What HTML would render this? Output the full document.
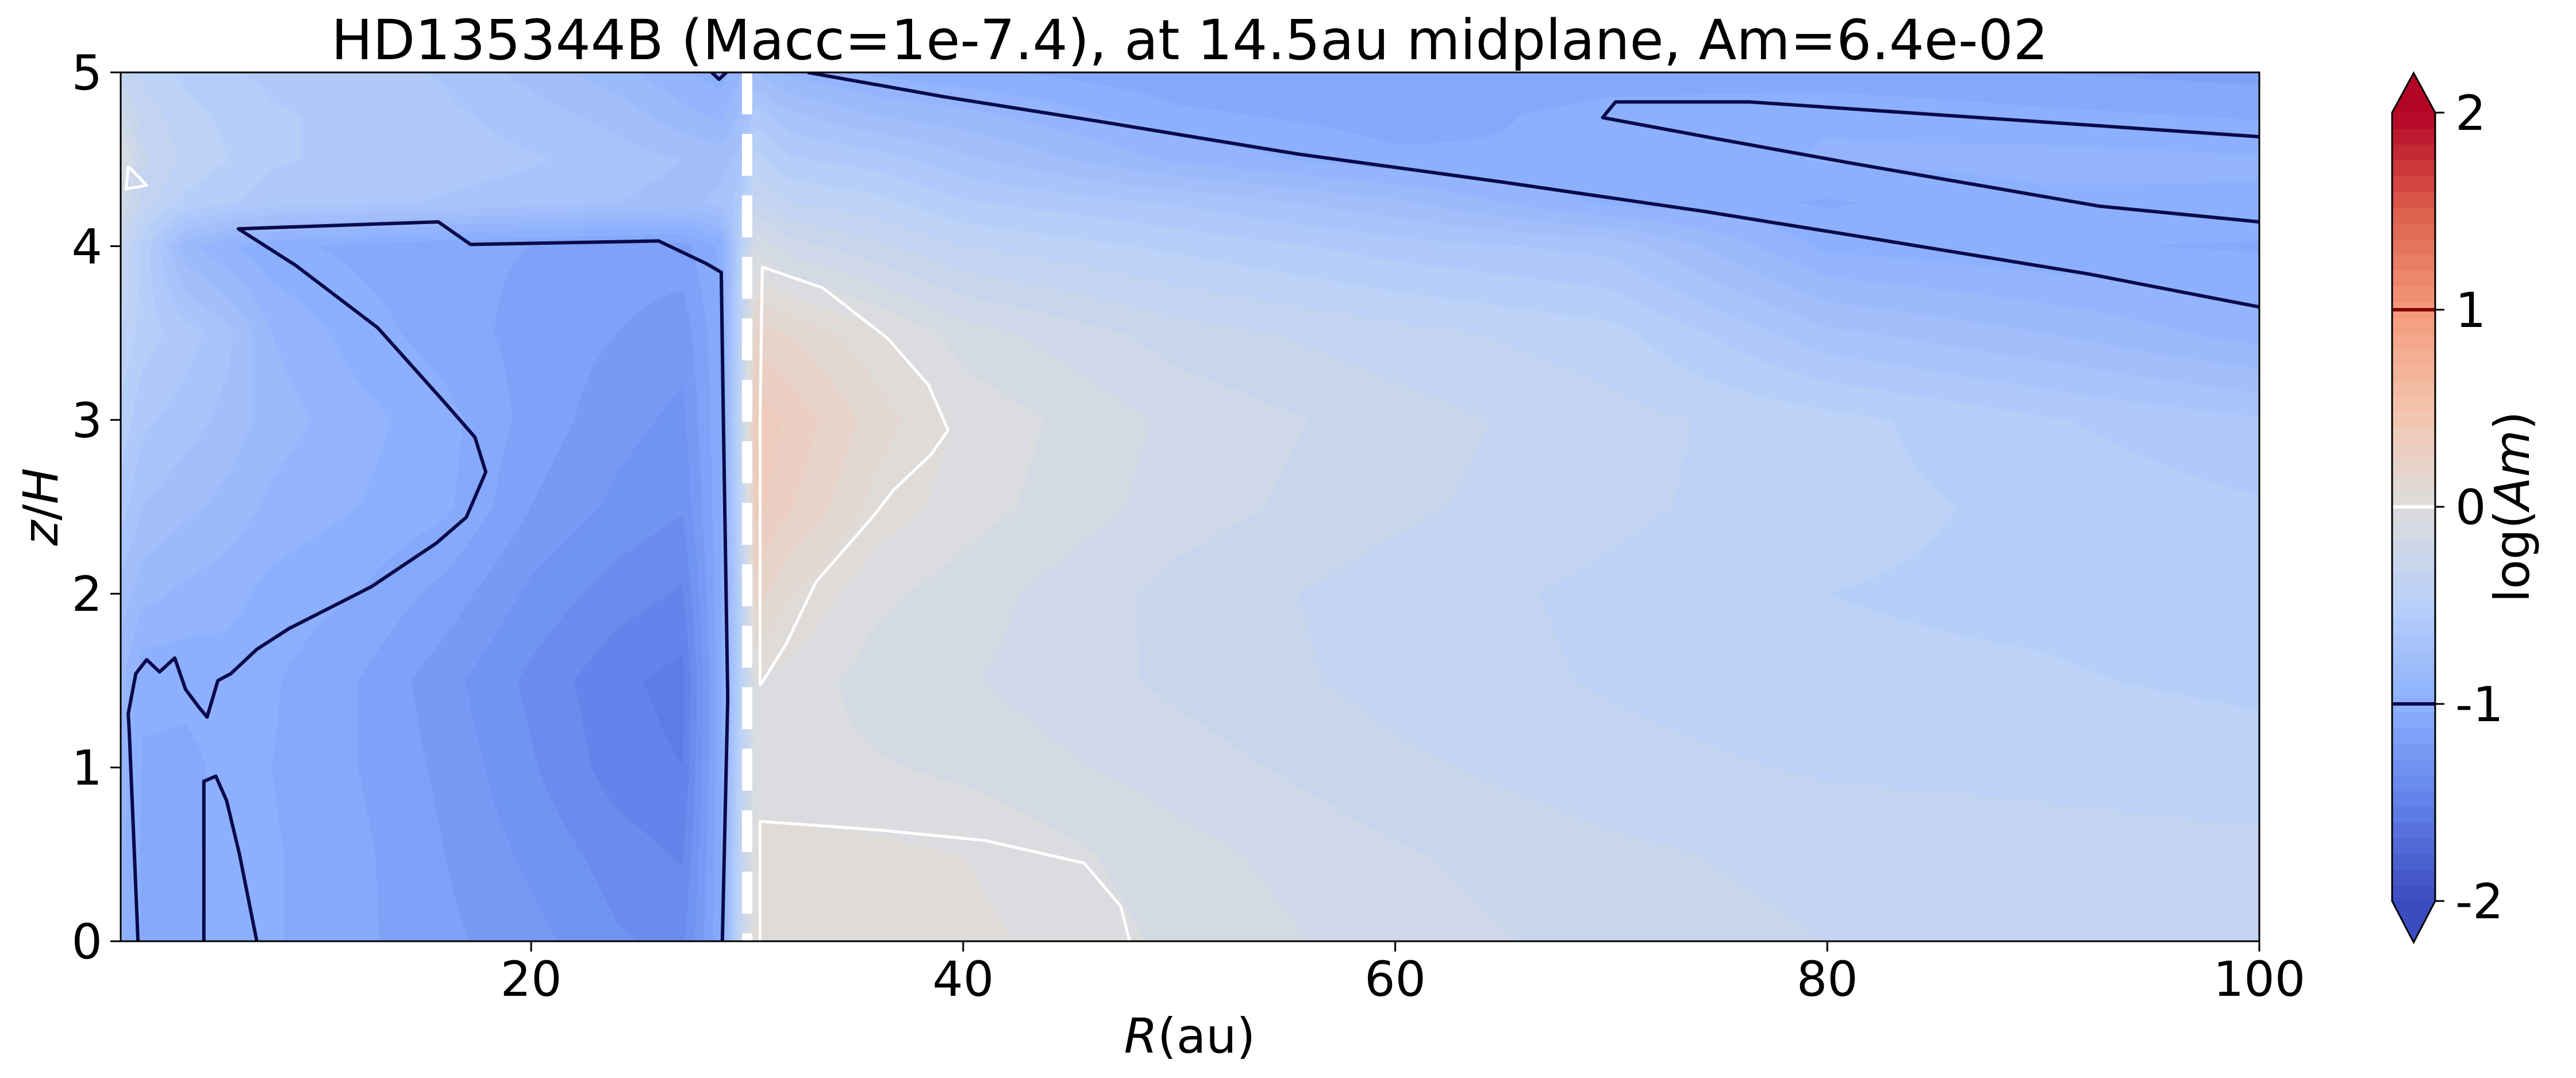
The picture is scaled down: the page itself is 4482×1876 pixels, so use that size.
<!DOCTYPE html>
<html><head><meta charset="utf-8">
<style>
html,body{margin:0;padding:0;background:#fff;}
#wrap{position:relative;width:4482px;height:1876px;overflow:hidden;background:#fff;}
#field{position:absolute;left:210px;top:126px;}
#ov{position:absolute;left:0;top:0;}
text{font-family:"DejaVu Sans","Liberation Sans",sans-serif;fill:#000;}
</style></head>
<body>
<div id="wrap">
<canvas id="field" width="3721" height="1512"></canvas>
<svg id="ov" width="4482" height="1876" xmlns="http://www.w3.org/2000/svg">
  <defs><clipPath id="pc"><rect x="210" y="126" width="3721" height="1512"/></clipPath></defs>
  <g id="contours" clip-path="url(#pc)"></g>
  <g id="axes"></g>
  <g id="cbar"></g>
  <text x="2070" y="103" font-size="96" text-anchor="middle">HD135344B (Macc=1e-7.4), at 14.5au midplane, Am=6.4e-02</text>
  <text x="2070" y="1832" font-size="84" text-anchor="middle"><tspan font-style="italic">R</tspan>(au)</text>
  <text x="0" y="0" font-size="84" text-anchor="middle" transform="translate(100,882) rotate(-90)"><tspan font-style="italic">z</tspan>/<tspan font-style="italic">H</tspan></text>
  <text x="0" y="0" font-size="84" text-anchor="middle" transform="translate(4400,882) rotate(-90)">log(<tspan font-style="italic">Am</tspan>)</text>
</svg>
</div>
<script>
// ---- data ----
const rNodes = [1,2,4,6,8,12,16,20,24,27,28.8,29.6,30.4,32,36,40,50,60,70,80,90,100];
const zNodes = [0,0.5,1,1.5,2,2.5,3,3.5,4,4.25,4.5,4.75,5];
const col_R1   = [-0.95,-0.95,-0.9,-0.85,-0.75,-0.6,-0.5,-0.4,-0.3,-0.15,0.02,-0.2,-0.35];
const col_R2   = [-1.05,-1.05,-1.05,-1.02,-0.85,-0.72,-0.62,-0.52,-0.5,-0.35,-0.3,-0.35,-0.42];
const col_R4   = [-1.08,-1.08,-1.06,-1.02,-0.9,-0.78,-0.68,-0.6,-0.85,-0.5,-0.42,-0.45,-0.5];
const col_R6   = [-0.96,-0.97,-1.02,-1.0,-0.93,-0.83,-0.75,-0.7,-0.95,-0.55,-0.48,-0.5,-0.55];
const col_R8   = [-1.03,-1.03,-1.04,-1.03,-0.99,-0.9,-0.84,-0.88,-1.02,-0.6,-0.55,-0.55,-0.58];
const col_R12  = [-1.1,-1.1,-1.12,-1.12,-1.04,-0.96,-0.93,-1.0,-1.06,-0.62,-0.58,-0.58,-0.6];
const col_R16  = [-1.18,-1.2,-1.22,-1.25,-1.15,-1.02,-1.01,-1.08,-1.1,-0.65,-0.6,-0.62,-0.65];
const col_R20  = [-1.25,-1.3,-1.35,-1.38,-1.3,-1.2,-1.15,-1.15,-1.12,-0.68,-0.63,-0.68,-0.75];
const col_R24  = [-1.35,-1.4,-1.48,-1.5,-1.4,-1.3,-1.25,-1.2,-1.15,-0.72,-0.68,-0.75,-0.85];
const col_R27  = [-1.38,-1.45,-1.52,-1.55,-1.45,-1.35,-1.3,-1.25,-1.15,-0.75,-0.72,-0.85,-0.95];
const col_R288 = [-1.05,-1.05,-1.05,-1.05,-1.05,-1.05,-1.05,-1.05,-1.02,-0.7,-0.75,-0.9,-1.0];
const col_R296 = [-0.4,-0.45,-0.5,-0.55,-0.55,-0.5,-0.45,-0.5,-0.55,-0.6,-0.7,-0.8,-0.9];
const col_R304 = [0.08,0.03,-0.04,0.0,0.2,0.35,0.38,0.2,-0.1,-0.3,-0.45,-0.6,-0.8];
const col_R32  = [0.07,0.03,-0.05,-0.03,0.08,0.25,0.3,0.15,-0.2,-0.4,-0.55,-0.7,-0.9];
const col_R36  = [0.05,0.02,-0.07,-0.12,-0.06,0.05,0.12,0.02,-0.3,-0.45,-0.6,-0.8,-0.98];
const col_R40  = [0.03,0.0,-0.1,-0.15,-0.12,-0.04,-0.02,-0.12,-0.4,-0.55,-0.7,-0.85,-1.02];
const col_R50  = [-0.1,-0.13,-0.2,-0.26,-0.27,-0.2,-0.18,-0.28,-0.5,-0.65,-0.9,-1.02,-1.1];
const col_R60  = [-0.2,-0.23,-0.3,-0.35,-0.36,-0.3,-0.28,-0.37,-0.6,-0.78,-1.02,-1.08,-1.12];
const col_R70  = [-0.27,-0.3,-0.37,-0.41,-0.42,-0.38,-0.37,-0.45,-0.67,-0.98,-1.04,-1.01,-1.08];
const col_R80  = [-0.32,-0.35,-0.41,-0.46,-0.48,-0.45,-0.45,-0.7,-0.98,-1.05,-0.95,-0.97,-1.1];
const col_R90  = [-0.34,-0.37,-0.42,-0.47,-0.5,-0.5,-0.55,-0.8,-1.03,-0.98,-0.93,-1.02,-1.12];
const col_R100 = [-0.36,-0.38,-0.44,-0.5,-0.53,-0.55,-0.63,-0.92,-1.05,-0.97,-0.95,-1.05,-1.15];
const fieldCols = [col_R1,col_R2,col_R4,col_R6,col_R8,col_R12,col_R16,col_R20,col_R24,col_R27,col_R288,col_R296,col_R304,col_R32,col_R36,col_R40,col_R50,col_R60,col_R70,col_R80,col_R90,col_R100];

const xTicks = [20,40,60,80,100];
const yTicks = [0,1,2,3,4,5];
const cbTicks = [2,1,0,-1,-2];
const cbTickLabels = ["2","1","0","-1","-2"];
const contourLevels = [-1,0,1];
const gapRadius = 30;

const contourMinus1_left = [[1.8,0],[1.6,0.6],[1.5,0.9],[1.4,1.2],[1.35,1.31],[1.7,1.54],[2.2,1.62],[2.8,1.55],[3.5,1.63],[4.0,1.45],[4.6,1.35],[5.0,1.29],[5.5,1.5],[6.1,1.54],[7.3,1.68],[8.8,1.8],[12.6,2.04],[15.6,2.29],[17,2.44],[17.9,2.7],[17.4,2.9],[16,3.1],[12.9,3.53],[9.1,3.89],[6.45,4.1],[15.7,4.14],[17.2,4.01],[25.9,4.03],[28.1,3.9],[28.8,3.85],[28.9,3],[29.1,1.4],[28.85,0]];
const contourMinus1_inner = [[4.85,0],[4.85,0.92],[5.4,0.95],[5.9,0.81],[6.5,0.5],[7.3,0]];
const contourMinus1_topnotch = [[28.2,5.02],[28.7,4.96],[29.2,5.02]];
const contourMinus1_upper = [[32.8,5],[39.1,4.86],[46.2,4.72],[55.5,4.53],[64.9,4.37],[74.3,4.2],[81.3,4.06],[92.1,3.84],[100,3.65]];
const contourMinus1_wedge = [[100,4.63],[76.4,4.83],[70.2,4.83],[69.6,4.74],[74.8,4.62],[81,4.48],[92.6,4.23],[100,4.14]];
const contourZero_gap = [[30.6,1.47],[31.8,1.71],[33.2,2.07],[35.8,2.44],[36.8,2.6],[38.5,2.8],[39.3,2.94],[38.4,3.2],[36.5,3.47],[33.5,3.76],[30.7,3.88],[30.6,3.0],[30.6,1.47]];
const contourZero_mid = [[30.6,0],[30.6,0.69],[36.1,0.64],[41,0.58],[45.6,0.45],[47.3,0.2],[47.7,0]];
const contourZero_corner = [[1.35,4.46],[2.2,4.35],[1.25,4.33],[1.35,4.46]];

// ---- axes ----
const PX0=210, PX1=3931, PY0=126, PY1=1638;
const R0=1, R1=100, Z0=0, Z1=5;
const xs = r => PX0 + (r-R0)/(R1-R0)*(PX1-PX0);
const ys = z => PY1 - (z-Z0)/(Z1-Z0)*(PY1-PY0);
const CB0=196, CB1=1568, CBX=4162, CBW=75;
const cs = v => CB1 - (v+2)/4*(CB1-CB0);

const cw = [[0,59,76,192],[0.125,98,130,234],[0.25,141,176,254],[0.375,184,208,249],[0.5,221,221,221],[0.625,245,196,173],[0.75,244,154,123],[0.875,222,96,77],[1,180,4,38]];
function cmap(t){t=Math.max(0,Math.min(1,t));for(let i=1;i<cw.length;i++){if(t<=cw[i][0]){const a=cw[i-1],b=cw[i],f=(t-a[0])/(b[0]-a[0]);return [a[1]+f*(b[1]-a[1]),a[2]+f*(b[2]-a[2]),a[3]+f*(b[3]-a[3])];}}return cw[cw.length-1].slice(1);}
const STEP=0.08;
function levelColor(v){let k=Math.floor((v+2)/STEP);if(k<0)return cmap(0);if(k>=50)return cmap(1);return cmap((k+0.5)/50);}

// ---- field ----
(function(){
  const cv=document.getElementById('field');const ctx=cv.getContext('2d');
  const W=cv.width,H=cv.height;const img=ctx.createImageData(W,H);const d=img.data;
  const colIdx=[],colF=[];
  for(let x=0;x<W;x++){const r=R0+(x+0.5)/W*(R1-R0);let i=0;while(i<rNodes.length-2&&r>rNodes[i+1])i++;colIdx.push(i);colF.push(Math.max(0,Math.min(1,(r-rNodes[i])/(rNodes[i+1]-rNodes[i]))));}
  for(let y=0;y<H;y++){const z=Z1-(y+0.5)/H*(Z1-Z0);let j=0;while(j<zNodes.length-2&&z>zNodes[j+1])j++;const g=Math.max(0,Math.min(1,(z-zNodes[j])/(zNodes[j+1]-zNodes[j])));
    for(let x=0;x<W;x++){const i=colIdx[x],f=colF[x];const a=fieldCols[i],b=fieldCols[i+1];
      const v=(1-f)*((1-g)*a[j]+g*a[j+1])+f*((1-g)*b[j]+g*b[j+1]);
      const c=levelColor(v);const p=(y*W+x)*4;d[p]=c[0];d[p+1]=c[1];d[p+2]=c[2];d[p+3]=255;}}
  ctx.putImageData(img,0,0);
})();

const NS='http://www.w3.org/2000/svg';
function mk(tag,attrs,parent){const e=document.createElementNS(NS,tag);for(const k in attrs)e.setAttribute(k,attrs[k]);parent.appendChild(e);return e;}
const cg=document.getElementById('contours');
function drawContour(pts,color,name,w){
  const e=mk('polyline',{points:pts.map(p=>xs(p[0]).toFixed(1)+','+ys(p[1]).toFixed(1)).join(' '),fill:'none',stroke:color,'stroke-width':w,'stroke-linejoin':'round'},cg);
  
  
}
const navy='#0a0a4a';
drawContour(contourMinus1_left,navy,'contour-minus1-left',6);
drawContour(contourMinus1_inner,navy,'contour-minus1-inner',6);
drawContour(contourMinus1_topnotch,navy,'contour-minus1-top-notch',6);
drawContour(contourMinus1_upper,navy,'contour-minus1-upper',6);
drawContour(contourMinus1_wedge,navy,'contour-minus1-wedge',6);
drawContour(contourZero_gap,'#ffffff','contour-zero-gap',5);
drawContour(contourZero_mid,'#ffffff','contour-zero-midplane',5);
drawContour(contourZero_corner,'#ffffff','contour-zero-corner',5);
const gl=mk('line',{x1:xs(gapRadius),x2:xs(gapRadius),y1:PY0,y2:PY1,stroke:'#fff','stroke-width':18,'stroke-dasharray':'73 34'},cg);



// axes
const ag=document.getElementById('axes');
const fr=mk('rect',{x:PX0,y:PY0,width:PX1-PX0,height:PY1-PY0,fill:'none',stroke:'#000','stroke-width':3},ag);


xTicks.forEach(t=>{
  const l=mk('line',{x1:xs(t),x2:xs(t),y1:PY1,y2:PY1+18,stroke:'#000','stroke-width':3},ag);
  
  
  const tx=mk('text',{x:xs(t),y:1733,'font-size':84,'text-anchor':'middle'},ag);tx.textContent=t;
  
  
});
yTicks.forEach(t=>{
  const l=mk('line',{x1:PX0-18,x2:PX0,y1:ys(t),y2:ys(t),stroke:'#000','stroke-width':3},ag);
  
  
  const tx=mk('text',{x:178,y:ys(t)+30,'font-size':84,'text-anchor':'end'},ag);tx.textContent=t;
  
  
});

// colorbar
const cb=document.getElementById('cbar');
for(let k=0;k<50;k++){
  const v0=-2+k*STEP,v1=v0+STEP;const c=cmap((k+0.5)/50);
  const r=mk('rect',{x:CBX,y:cs(v1),width:CBW,height:cs(v0)-cs(v1)+0.8,fill:`rgb(${c[0]|0},${c[1]|0},${c[2]|0})`},cb);
  
  
}
const cTop=cmap(1),cBot=cmap(0);
const ta=mk('polygon',{points:`${CBX},${CB0} ${CBX+CBW/2},127 ${CBX+CBW},${CB0}`,fill:`rgb(${cTop.map(v=>v|0).join(',')})`},cb);


const ba=mk('polygon',{points:`${CBX},${CB1} ${CBX+CBW/2},1640 ${CBX+CBW},${CB1}`,fill:`rgb(${cBot.map(v=>v|0).join(',')})`},cb);


const lineCols={'-1':navy,'0':'#ffffff','1':'#800000'};
contourLevels.forEach(v=>{
  const l=mk('line',{x1:CBX,x2:CBX+CBW,y1:cs(v),y2:cs(v),stroke:lineCols[String(v)],'stroke-width':6},cb);
  
  
});
const ol=mk('polygon',{points:`${CBX},${CB0} ${CBX+CBW/2},127 ${CBX+CBW},${CB0} ${CBX+CBW},${CB1} ${CBX+CBW/2},1640 ${CBX},${CB1}`,fill:'none',stroke:'#000','stroke-width':3},cb);


cbTicks.forEach((v,i)=>{
  const l=mk('line',{x1:CBX+CBW,x2:CBX+CBW+16,y1:cs(v),y2:cs(v),stroke:'#000','stroke-width':3},cb);
  
  
  const tx=mk('text',{x:4272,y:cs(v)+30,'font-size':84},cb);tx.textContent=cbTickLabels[i];
  
  
});
</script>
</body></html>
